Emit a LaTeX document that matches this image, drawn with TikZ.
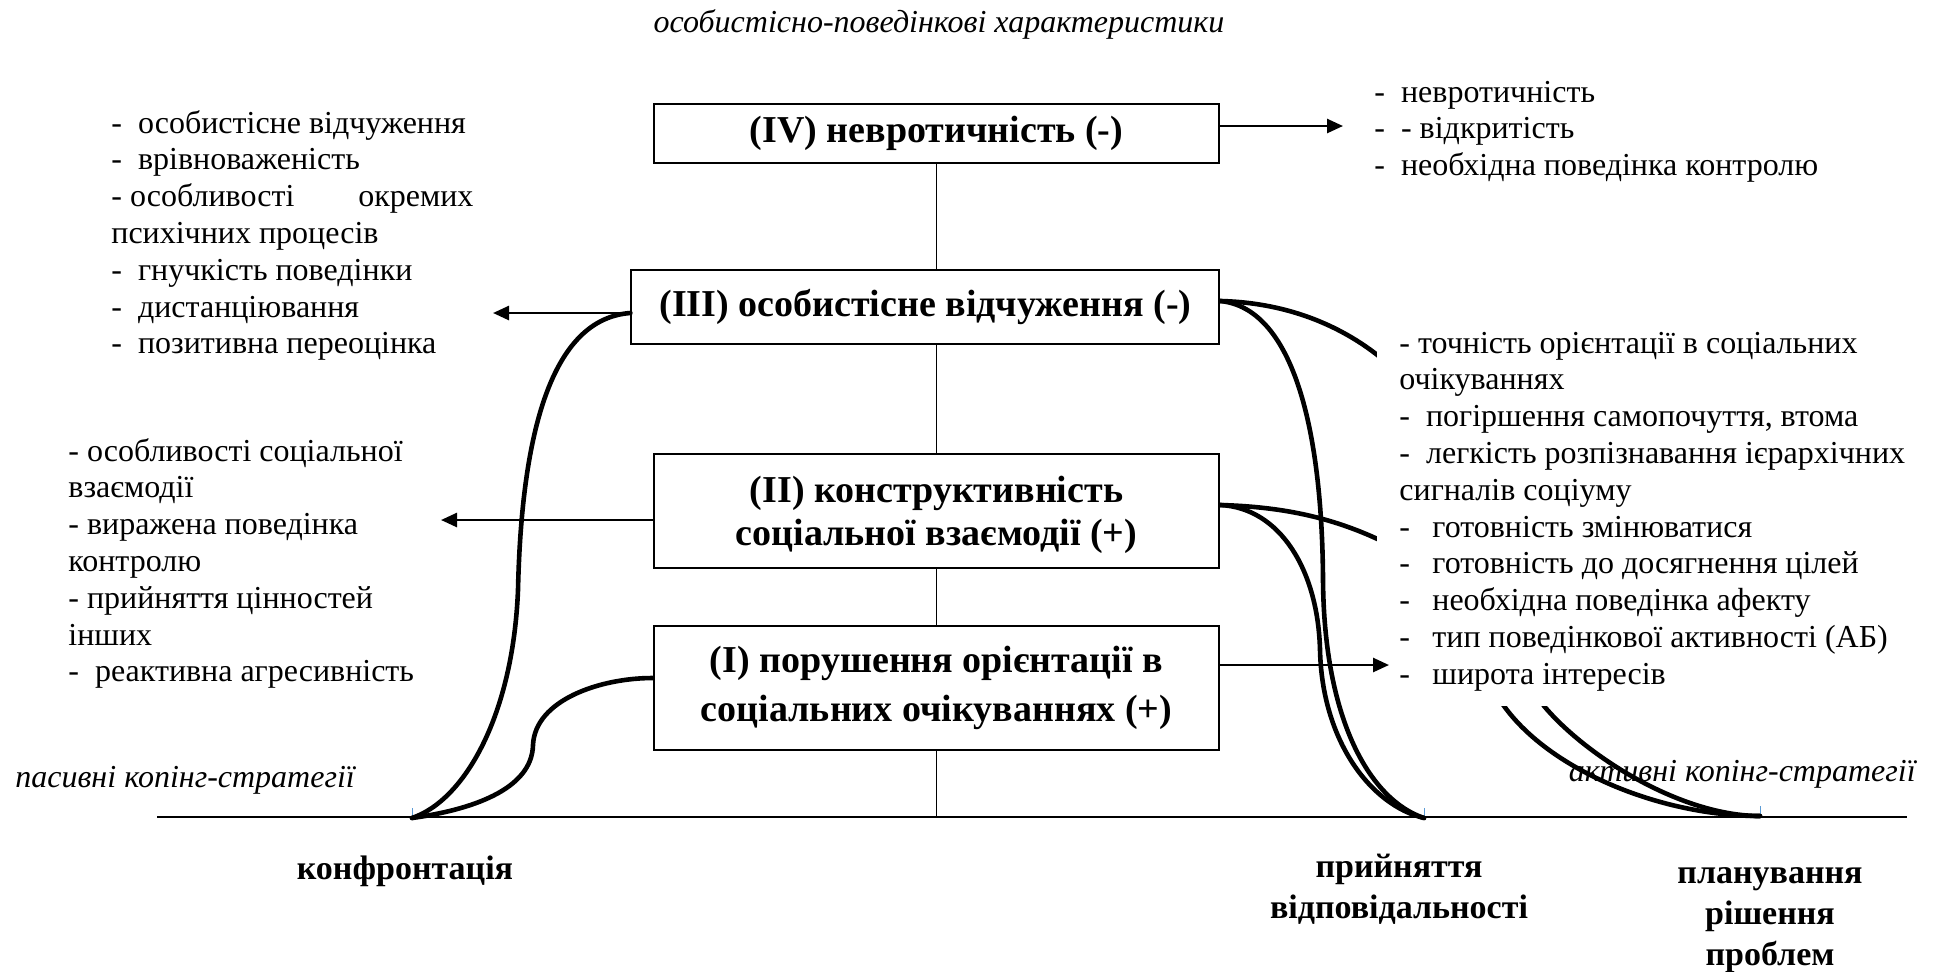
\documentclass[tikz,border=0pt]{standalone}
\usepackage{fontspec}
\setmainfont{Liberation Serif}
\usetikzlibrary{arrows.meta}
\begin{document}
\begin{tikzpicture}[x=0.5pt,y=-0.5pt,
  box/.style={draw, line width=1pt, fill=white, inner sep=0pt, align=center,
    font=\fontsize{19}{21.7}\selectfont\bfseries},
  lst/.style={anchor=north west, inner sep=0pt, align=left,
    font=\fontsize{16}{18.4}\selectfont},
  axislbl/.style={inner sep=0pt, align=center, font=\fontsize{17}{20.5}\selectfont\bfseries},
  itl/.style={inner sep=0pt, font=\fontsize{16}{18.4}\selectfont\itshape},
  arr/.style={line width=1.3pt, -{Triangle[length=8pt,width=7pt]}},
  bond/.style={line width=2.3pt, line cap=round},
  thinline/.style={line width=0.6pt},
  tick/.style={line width=0.5pt, draw={rgb,255:red,91;green,155;blue,213}},
]
\useasboundingbox (0,0) rectangle (1941,971);

% base line of the coping scale and its three points
\coordinate (axL) at (157,817);
\coordinate (axR) at (1907,817);
\coordinate (conf) at (412,818);
\coordinate (acc) at (1424,818);
\coordinate (plan) at (1760,816);
\draw[thinline] (axL) -- (axR);
\foreach \p in {conf,acc,plan} \draw[tick] (\p) -- ++(0,-10);

% the four levels
\node[box, minimum width=282.9pt, minimum height=29.75pt] (b4) at (936.5,133.5) {\raisebox{-2pt}{(IV) невротичність (-)}};
\node[box, minimum width=294pt, minimum height=37pt] (b3) at (925.4,307) {\raisebox{-1.5pt}{(III) особистісне відчуження (-)}};
\node[box, minimum width=282.9pt, minimum height=57pt] (b2) at (936.5,511) {\rule{0pt}{17pt}(II) конструктивність\\соціальної взаємодії (+)};
\node[box, minimum width=282.9pt, minimum height=62pt] (b1) at (936.5,688) {(I) порушення орієнтації в\\[3pt]соціальних очікуваннях (+)};

% central axis between the levels
\draw[thinline] (b4.south) -- (b4.south |- b3.north);
\draw[thinline] (b4.south |- b3.south) -- (b4.south |- b2.north);
\draw[thinline] (b2.south) -- (b1.north);
\draw[thinline] (b1.south) -- (b1.south |- axL);

% headings
\node[itl] (title) at (939,24) {особистісно-поведінкові характеристики};
\node[itl, anchor=west] (pas) at (15,780) {пасивні копінг-стратегії};
\node[itl, anchor=east] (act) at (1916,774) {активні копінг-стратегії};

% coping strategies
\node[axislbl] (lconf) at (405,871) {конфронтація};
\node[axislbl] (lacc) at (1399,889) {прийняття\\відповідальності};
\node[axislbl] (lplan) at (1770,920) {планування\\рішення\\проблем};

% links between levels and strategies
\coordinate (a4) at (1343,126);
\coordinate (a3) at (493,313);
\coordinate (a2) at (441,520);
\coordinate (a1) at (1389,665);
\draw[bond] (conf) .. controls (465,800) and (513,715) .. (518,590)
  .. controls (522,410) and (560,318) .. (b3.west |- a3);
\draw[bond] (conf) .. controls (470,810) and (532,790) .. (533,745)
  .. controls (535,700) and (600,678) .. ([yshift=5pt]b1.west);
\draw[bond] ([yshift=3pt]b3.east) .. controls (1290,308) and (1322,420) .. (1323,580)
  .. controls (1324,720) and (1370,800) .. (acc);
\draw[bond] ([yshift=3pt]b2.east) .. controls (1280,508) and (1318,570) .. (1320,650)
  .. controls (1322,740) and (1370,805) .. (acc);
\draw[bond] ([yshift=3pt]b3.east) .. controls (1300,303) and (1360,335) .. (1400,375)
  .. controls (1480,455) and (1500,640) .. (1544,706)
  .. controls (1585,755) and (1680,816) .. (plan);
\draw[bond] ([yshift=3pt]b2.east) .. controls (1290,507) and (1340,520) .. (1390,545)
  .. controls (1450,575) and (1470,660) .. (1504,706)
  .. controls (1550,770) and (1660,816) .. (plan);

% characteristic lists
\node[lst] (l4) at (1374,76) {\strut-\ \ невротичність\\-\ \ - відкритість\\-\ \ необхідна поведінка контролю};
\node[lst] (l3) at (111,107) {\strut-\ \ особистісне відчуження\\-\ \ врівноваженість\\\makebox[181pt][l]{- особливості\hfill окремих}\\психічних процесів\\-\ \ гнучкість поведінки\\-\ \ дистанціювання\\-\ \ позитивна переоцінка};
\node[lst] (l2) at (68,435) {\strut- особливості соціальної\\взаємодії\\- виражена поведінка\\контролю\\- прийняття цінностей\\інших\\-\ \ реактивна агресивність};
\fill[white] (1377,328) rectangle (1905,706);
\node[lst] (l1) at (1399,327) {\strut- точність орієнтації в соціальних\\очікуваннях\\-\ \ погіршення самопочуття, втома\\-\ \ легкість розпізнавання ієрархічних\\сигналів соціуму\\\makebox[16.5pt][l]{-}готовність змінюватися\\\makebox[16.5pt][l]{-}готовність до досягнення цілей\\\makebox[16.5pt][l]{-}необхідна поведінка афекту\\\makebox[16.5pt][l]{-}тип поведінкової активності (АБ)\\\makebox[16.5pt][l]{-}широта інтересів};

% arrows to the characteristic lists
\draw[arr] (b4.east |- a4) -- (a4);
\draw[arr] (b3.west |- a3) -- (a3);
\draw[arr] (b2.west |- a2) -- (a2);
\draw[arr] (b1.east |- a1) -- (a1);
\end{tikzpicture}
\end{document}
